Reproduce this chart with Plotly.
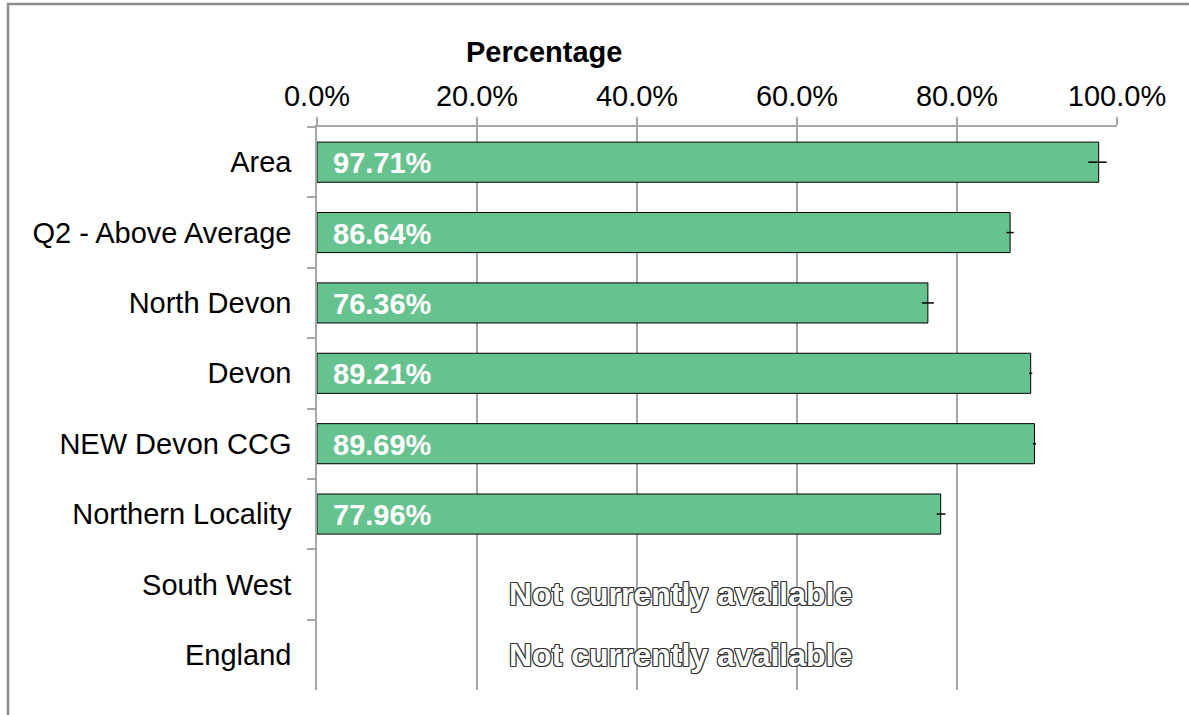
import plotly.graph_objects as go

categories = ["Area", "Q2 - Above Average", "North Devon", "Devon", "NEW Devon CCG",
              "Northern Locality", "South West", "England"]
values = [97.71, 86.64, 76.36, 89.21, 89.69, 77.96, None, None]
err_plus = [1.0, 0.45, 0.75, 0.2, 0.2, 0.6, None, None]
err_minus = [1.3, 0.45, 0.75, 0.2, 0.2, 0.5, None, None]
tick_vals = [0, 20, 40, 60, 80, 100]
tick_text = ["0.0%", "20.0%", "40.0%", "60.0%", "80.0%", "100.0%"]
missing_text = "Not currently available"

FONT = "Liberation Sans, Arial, sans-serif"
BAR = "#66C28E"
GRID = "#A6A6A6"

fig = go.Figure()
fig.add_trace(go.Bar(
    y=categories, x=values, orientation="h",
    marker=dict(color=BAR, line=dict(color="#000000", width=1)),
    error_x=dict(type="data", array=err_plus, arrayminus=err_minus, symmetric=False,
                 color="#000000", thickness=1.5, width=0),
    width=0.57, hoverinfo="skip", showlegend=False,
))

outline = ("1px 1px 0 #333, -1px -1px 0 #333, 1px -1px 0 #333, -1px 1px 0 #333, "
           "0 1px 0 #333, 0 -1px 0 #333, 1px 0 0 #333, -1px 0 0 #333")
missing_shift = {"South West": -10, "England": 0}

annotations = []
for cat, v in zip(categories, values):
    if v is not None:
        annotations.append(dict(
            x=0, y=cat, xref="x", yref="y", text=f"{v:.2f}%", showarrow=False,
            xanchor="left", yanchor="middle", xshift=14, yshift=-1,
            font=dict(family=FONT, size=29, color="white", weight="bold")))
    else:
        annotations.append(dict(
            x=45.4, y=cat, xref="x", yref="y", text=missing_text, showarrow=False,
            xanchor="center", yanchor="middle", yshift=missing_shift.get(cat, 0),
            font=dict(family=FONT, size=32, color="white", weight="bold", shadow=outline)))

annotations.append(dict(
    x=(544 - 317) / 800, y=1 + 75 / 563, xref="paper", yref="paper",
    text="<b>Percentage</b>", showarrow=False, xanchor="center", yanchor="middle",
    font=dict(family=FONT, size=29, color="black")))

fig.update_layout(
    width=1189, height=715,
    margin=dict(l=317, r=72, t=127, b=25),
    paper_bgcolor="white", plot_bgcolor="white",
    font=dict(family=FONT, size=29, color="black"),
    xaxis=dict(side="top", range=[0, 100], tickvals=tick_vals, ticktext=tick_text,
               showgrid=True, gridcolor=GRID, gridwidth=1.5,
               ticks="outside", ticklen=8, tickcolor=GRID, tickwidth=1.5,
               showline=True, linecolor=GRID, linewidth=1.5, zeroline=False,
               tickfont=dict(size=29)),
    yaxis=dict(autorange="reversed", type="category", tickson="boundaries",
               ticks="outside", ticklen=8, tickcolor=GRID, tickwidth=1.5,
               showline=True, linecolor=GRID, linewidth=1.5, showgrid=False,
               ticklabelstandoff=18, tickfont=dict(size=29)),
    annotations=annotations,
    shapes=[dict(type="rect", xref="paper", yref="paper",
                 x0=(8 - 317) / 800, x1=(1200 - 317) / 800,
                 y0=(690 - 730) / 563, y1=(690 - 4) / 563,
                 line=dict(color="#8C8C8C", width=2.5))],
)

fig.write_html("out.html", config={"displayModeBar": False},
               post_script="document.body.style.margin='0';")
